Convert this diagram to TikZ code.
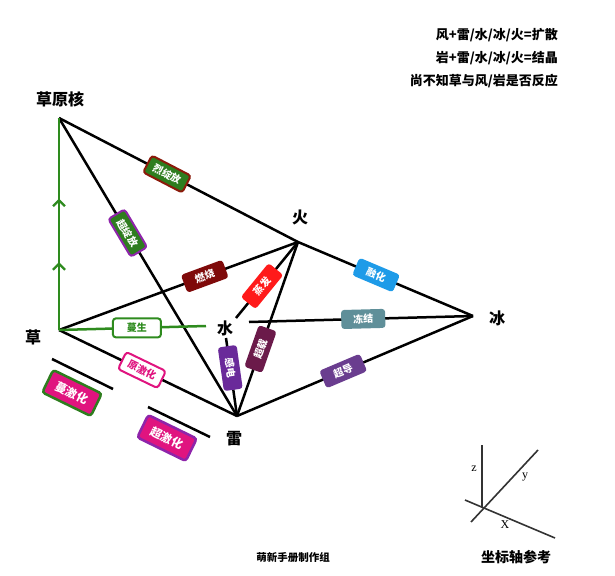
\documentclass[tikz,border=0pt]{standalone}
\usepackage{fontspec}
\setmainfont{Noto Sans CJK SC}
\newfontfamily\latinserif{Liberation Serif}
\usetikzlibrary{decorations.markings,arrows.meta}
\definecolor{grn}{HTML}{2E7D1E}
\definecolor{linegreen}{HTML}{2E8B1E}
\definecolor{drkred}{HTML}{8B1A0A}
\definecolor{purp}{HTML}{8E24AA}
\definecolor{burn}{HTML}{7F0A0A}
\definecolor{vap}{HTML}{FF1A1A}
\definecolor{melt}{HTML}{1E9BE8}
\definecolor{frz}{HTML}{5F8F99}
\definecolor{scond}{HTML}{6A3D8F}
\definecolor{oload}{HTML}{6B1A4A}
\definecolor{echg}{HTML}{6A2A9A}
\definecolor{pinkc}{HTML}{E0147F}
\definecolor{axisgray}{HTML}{333333}
\tikzset{
  edge/.style={line width=2.5pt, black},
  gedge/.style={line width=2.5pt, linegreen},
  rbox/.style={rounded corners=3pt, minimum width=44pt, minimum height=19pt, inner sep=1pt,
    font=\fontsize{10}{10}\selectfont\bfseries, text=white, line width=2pt},
  bigbox/.style={rbox, minimum width=54pt, minimum height=25pt, font=\fontsize{11.5}{11.5}\selectfont\bfseries, line width=2.5pt},
  ptlabel/.style={font=\fontsize{16}{16}\selectfont\bfseries},
  note/.style={font=\fontsize{13}{13}\selectfont\bfseries, anchor=east, inner sep=0pt},
  axlab/.style={font=\latinserif\fontsize{12}{12}\selectfont, inner sep=0pt},
  garrows/.style={postaction={decorate}, decoration={markings,
    mark=at position 0.32 with {\arrow{Straight Barb[length=6pt,width=12pt,line width=2.3pt]}},
    mark=at position 0.62 with {\arrow{Straight Barb[length=6pt,width=12pt,line width=2.3pt]}}}}
}
\begin{document}
\begin{tikzpicture}[x=1pt,y=-1pt]
\useasboundingbox (0,0) rectangle (615,575);
\fill[white] (0,0) rectangle (615,575);
% points
\coordinate (G) at (59,118);
\coordinate (C) at (59,330);
\coordinate (F) at (298,242);
\coordinate (B) at (473,316);
\coordinate (L) at (237,416);
\coordinate (Ww) at (206,326);
\coordinate (We) at (249,322);
\coordinate (Wne) at (236,318);
\coordinate (Ws) at (226,338);
% point labels
\node[ptlabel] (tG) at (60,99) {草原核};
\node[ptlabel] (tC) at (33,337) {草};
\node[ptlabel] (tF) at (300,217) {火};
\node[ptlabel] (tB) at (497,318) {冰};
\node[ptlabel] (tL) at (234,439) {雷};
\node[ptlabel] (tW) at (225,328) {水};
% connectors
\draw[edge] (G) -- (F) -- (B);
\draw[edge] (G) -- (L);
\draw[edge] (C) -- (F);
\draw[edge] (C) -- (L);
\draw[edge] (F) -- (L);
\draw[edge] (L) -- (B);
\draw[edge] (Wne) -- (F);
\draw[edge] (We) -- (B);
\draw[edge] (Ws) -- (L);
\draw[gedge] (C) -- (Ww);
\draw[gedge, garrows] (C) -- (G);
% reaction boxes
\path (G) -- (F) node[rbox, sloped, pos=0.452, fill=grn, draw=drkred] (r1) {烈绽放};
\path (G) -- (L) node[rbox, sloped, pos=0.386, fill=grn, draw=purp] (r2) {超绽放};
\path (C) -- (F) node[rbox, sloped, pos=0.61, fill=burn] (r3) {燃烧};
\path (Wne) -- (F) node[rbox, sloped, pos=0.42, fill=vap] (r4) {蒸发};
\path (F) -- (B) node[rbox, sloped, pos=0.446, fill=melt] (r5) {融化};
\path (We) -- (B) node[rbox, sloped, pos=0.51, fill=frz] (r6) {冻结};
\path (L) -- (B) node[rbox, sloped, pos=0.45, fill=scond] (r7) {超导};
\path (F) -- (L) node[rbox, sloped, pos=0.615, fill=oload] (r8) {超载};
\path (Ws) -- (L) node[rbox, sloped, pos=0.385, fill=echg] (r9) {感电};
\path (C) -- (L) node[rbox, sloped, pos=0.466, fill=white, draw=pinkc, text=pinkc] (r10) {原激化};
\path (C) -- (Ww) node[rbox, pos=0.53, fill=white, draw=linegreen, text=linegreen, minimum width=48pt] (r11) {蔓生};
% side bars
\coordinate (b1s) at (52,359);
\coordinate (b1e) at (113,389);
\coordinate (b2s) at (148,407);
\coordinate (b2e) at (210,437);
\draw[edge] (b1s) -- (b1e);
\draw[edge] (b2s) -- (b2e);
\node[bigbox, rotate=-26, fill=pinkc, draw=grn] (r12) at (72,393) {蔓激化};
\node[bigbox, rotate=-26, fill=pinkc, draw=purp] (r13) at (167,438) {超激化};
% notes
\node[note] (n1) at (558,35) {风+雷/水/冰/火=扩散};
\node[note] (n2) at (558,58) {岩+雷/水/冰/火=结晶};
\node[note] (n3) at (558,81) {尚不知草与风/岩是否反应};
% footer
\node[font=\fontsize{10.5}{10.5}\selectfont\bfseries] (f1) at (293,558) {萌新手册制作组};
\node[font=\fontsize{14}{14}\selectfont\bfseries] (f2) at (516,557) {坐标轴参考};
% axes
\coordinate (O) at (482,508);
\coordinate (Zt) at (482,445);
\coordinate (Yt) at (538,450);
\coordinate (Yb) at (471,522);
\coordinate (Xs) at (465,500);
\coordinate (Xe) at (555,538);
\draw[line width=1.6pt, axisgray] (Zt) -- (O);
\draw[line width=1.6pt, axisgray] (Yt) -- (Yb);
\draw[line width=1.6pt, axisgray] (Xs) -- (Xe);
\node[axlab] (az) at (474,469) {z};
\node[axlab] (ay) at (525,477) {y};
\node[axlab] (ax) at (505,525) {X};
\end{tikzpicture}
\end{document}
